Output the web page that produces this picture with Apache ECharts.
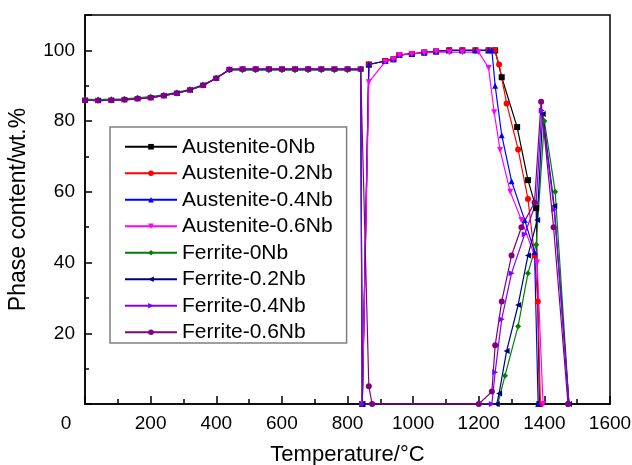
<!DOCTYPE html>
<html>
<head>
<meta charset="utf-8">
<script src="https://cdn.jsdelivr.net/npm/echarts@6/dist/echarts.min.js"></script>
<style>
html,body{margin:0;padding:0;background:#fff;}
#c{width:632px;height:465px;}
</style>
</head>
<body>
<div id="c"></div>
<script>
// ---- data ----
const seriesNames = ['Austenite-0Nb','Austenite-0.2Nb','Austenite-0.4Nb','Austenite-0.6Nb','Ferrite-0Nb','Ferrite-0.2Nb','Ferrite-0.4Nb','Ferrite-0.6Nb'];
const xTicks = [0,200,400,600,800,1000,1200,1400,1600];
const yTicks = [20,40,60,80,100];

// low temperature (shared) part of ferrite curves
const lowT = [0,40,80,120,160,200,240,280,320,360,400,440,480,520,560,600,640,680,720,760,800,840];
const lowV = [85.9,85.8,85.9,86.0,86.3,86.6,87.2,87.9,88.8,90.1,92.1,94.6,94.7,94.7,94.7,94.7,94.7,94.7,94.7,94.7,94.7,94.7];
const lowV0 = [86.2,86.1,86.2,86.3,86.6,86.9,87.4,88.1,89.0,90.3,92.2,94.4,94.4,94.4,94.4,94.4,94.4,94.4,94.4,94.4,94.4,94.4];

// austenite shared part after transformation
const ausMidT = [845,865,915,940,958,996,1034,1070,1110,1150,1190,1230];
const ausMidV = [0,96,97,97.5,98.7,99,99.4,99.7,100,100,100,100];
const ausMidV6 = [0,91,96.8,97.5,98.7,99,99.3,99.6,99.5,99.5,99.5];
const ausMidT6 = [845,865,915,940,958,996,1034,1070,1110,1150,1200];

const aus0T = [1250,1270,1317,1350,1375,1385];
const aus0V = [100,92.4,78.3,63.3,55.4,0];
const aus2T = [1248,1262,1285,1320,1350,1370,1380,1388];
const aus2V = [100,96,85,72,58,42,29,0];
const aus4T = [1240,1250,1270,1300,1340,1370,1381];
const aus4V = [100,90,76,63,52,43,0];
const aus6T = [1230,1247,1265,1296,1330,1378,1396];
const aus6V = [95,82.5,71.8,60,52,40,0];

const fer0T = [845,1258,1280,1320,1350,1375,1400,1433,1475];
const fer0V = [0,0,8,22,37,45,80,60,0];
const fer2T = [845,1255,1262,1285,1320,1350,1378,1395,1430,1475];
const fer2V = [0,0,3,15,28,42,52,82,56,0];
const fer4T = [845,1240,1250,1270,1300,1340,1375,1392,1430,1475];
const fer4V = [0,0,9,24,37,48,57,83,55,0];
const fer6T = [865,875,1200,1240,1250,1270,1300,1330,1370,1390,1428,1472];
const fer6V = [5,0,0,3.5,16.6,29,42,50,57,85.5,50,0];

// ---- build ----
function pairs(ts, vs){ return ts.map((t,i)=>[t, vs[i]]); }
const dataSets = [
  pairs(ausMidT.concat(aus0T), ausMidV.concat(aus0V)),
  pairs(ausMidT.concat(aus2T), ausMidV.concat(aus2V)),
  pairs(ausMidT.concat(aus4T), ausMidV.concat(aus4V)),
  pairs(ausMidT6.concat(aus6T), ausMidV6.concat(aus6V)),
  pairs(lowT.concat(fer0T), lowV0.concat(fer0V)),
  pairs(lowT.concat(fer2T), lowV.concat(fer2V)),
  pairs(lowT.concat(fer4T), lowV.concat(fer4V)),
  pairs(lowT.concat(fer6T), lowV.concat(fer6V))
];
const colors = ['#000000','#ff0000','#0000ff','#ff00ff','#008000','#000080','#8000ff','#800080'];
const symbols = ['rect','circle','triangle','path://M0,0 L10,0 L5,10 Z','diamond','path://M10,0 L10,10 L0,5 Z','path://M0,0 L0,10 L10,5 Z','circle'];

const chart = echarts.init(document.getElementById('c'), null, {renderer:'canvas'});
const FONT = 'Liberation Sans, Arial, sans-serif';
chart.setOption({
  animation:false,
  backgroundColor:'#fff',
  grid:{left:85,right:22,top:15,bottom:61,show:true,borderColor:'#000',borderWidth:1.5,backgroundColor:'transparent',
        containLabel:false,outerBoundsMode:'none'},
  legend:{
    orient:'vertical',left:110,top:127,
    data:seriesNames,
    itemWidth:52,itemHeight:7,itemGap:5,
    padding:[9,14,0,14],
    borderColor:'#808080',borderWidth:1.5,borderRadius:0,
    textStyle:{fontFamily:FONT,fontSize:21,color:'#000',lineHeight:21.5}
  },
  xAxis:{
    type:'value',min:0,max:1600,interval:200,
    name:'Temperature/°C',nameLocation:'middle',nameGap:40,
    nameTextStyle:{fontFamily:FONT,fontSize:22,color:'#000'},
    axisLine:{show:true,lineStyle:{color:'#000',width:1.5}},
    axisTick:{show:true,inside:true,length:8,lineStyle:{color:'#000',width:1.5}},
    minorTick:{show:true,splitNumber:2,length:5,lineStyle:{color:'#000',width:1.5}},
    splitLine:{show:false},
    axisLabel:{fontFamily:FONT,fontSize:19,color:'#000',margin:10,
      formatter:function(v){ return v===0 ? '{z|0}' : String(v); },
      rich:{z:{fontFamily:FONT,fontSize:19,color:'#000',padding:[0,38,0,0]}}}
  },
  yAxis:{
    type:'value',min:0,max:110,interval:20,
    name:'Phase content/wt.%',nameLocation:'middle',nameGap:55,
    nameTextStyle:{fontFamily:FONT,fontSize:23,color:'#000'},
    axisLine:{show:true,lineStyle:{color:'#000',width:1.5}},
    axisTick:{show:true,inside:true,length:7,lineStyle:{color:'#000',width:1.5}},
    minorTick:{show:true,splitNumber:2,length:4,lineStyle:{color:'#000',width:1.5}},
    splitLine:{show:false},
    axisLabel:{fontFamily:FONT,fontSize:19,color:'#000',margin:10,
      formatter:function(v){ return yTicks.indexOf(v)>=0 ? String(v) : ''; }}
  },
  series: seriesNames.map((n,i)=>({
    name:n,type:'line',data:dataSets[i],
    symbol:symbols[i],symbolSize:6,showAllSymbol:true,
    itemStyle:{color:colors[i]},
    lineStyle:{color:colors[i],width:1.2},
    emphasis:{disabled:true}
  }))
});
</script>
</body>
</html>
